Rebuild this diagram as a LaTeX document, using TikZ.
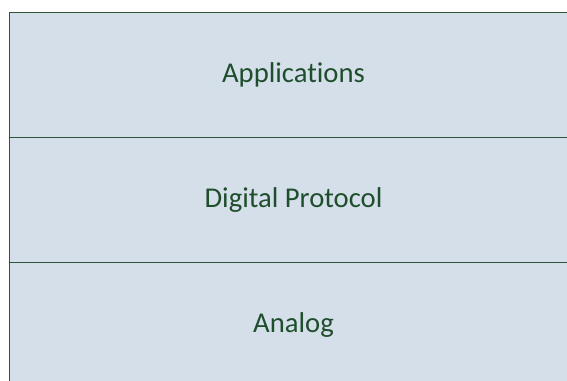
\documentclass[tikz,border=0pt]{standalone}
\usepackage{fontspec}
\setmainfont[Ligatures=CommonOff]{Carlito}
\definecolor{layerfill}{HTML}{D5DFEA}
\definecolor{layerline}{HTML}{2E5538}
\definecolor{layertext}{HTML}{1F4E2C}
\begin{document}
\begin{tikzpicture}[x=0.75pt,y=-0.75pt,
  layer/.style={draw=layerline, fill=layerfill, line width=1.4pt,
    minimum width=568*0.75pt, minimum height=125*0.75pt, inner sep=0pt,
    text=layertext, font=\fontsize{21.5pt}{26pt}\selectfont}]
  \useasboundingbox (0,0) rectangle (567,380);
  \fill[white] (0,0) rectangle (567,380);
  \clip (0,0) rectangle (567,380);
  \node[layer] (apps) at (293.5,75) {Applications};
  \node[layer] (digital) at (293.5,200) {Digital Protocol};
  \node[layer] (analog) at (293.5,325) {Analog};
\end{tikzpicture}
\end{document}
